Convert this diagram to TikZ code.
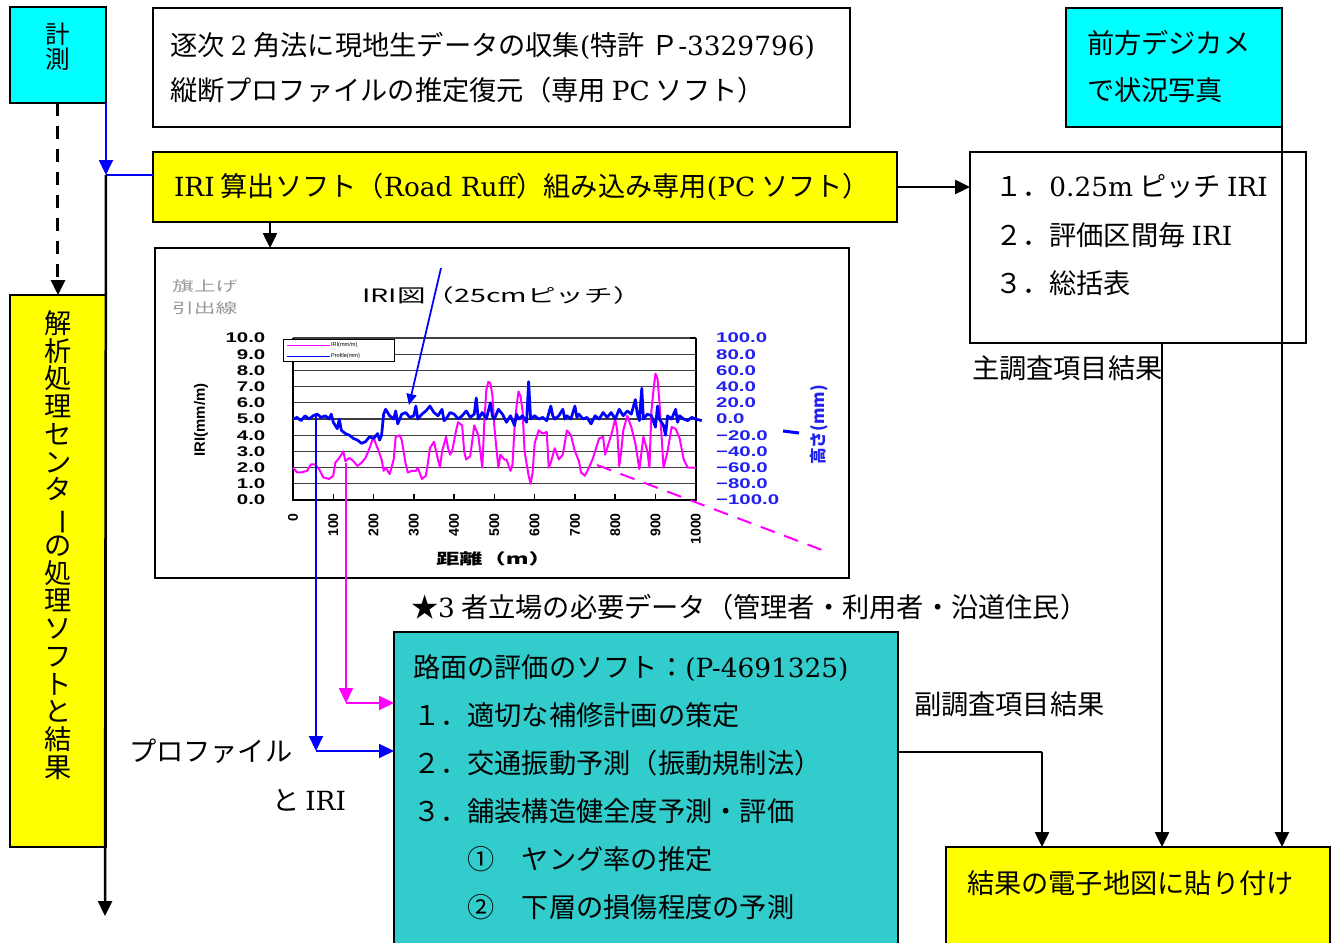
\documentclass[tikz,border=0pt]{standalone}
\usepackage{fontspec}
\newfontfamily\jp{Noto Sans CJK JP}
\newfontfamily\jpc{Noto Sans CJK JP}[FakeStretch=1.55]
\newfontfamily\cnum{Liberation Sans}[FakeStretch=1.45]
\newfontfamily\cnumr{Liberation Sans}
\newfontfamily\latf{DejaVu Serif}
\usetikzlibrary{arrows.meta}
\newcommand\lat[1]{{\fontsize{15}{15}\latf #1}}
\definecolor{cyanbox}{HTML}{00FFFF}
\definecolor{ybox}{HTML}{FFFF00}
\definecolor{tealbox}{HTML}{33CCCC}
\definecolor{mag}{HTML}{FF00FF}
\definecolor{blu}{HTML}{0000FF}
\definecolor{rblu}{HTML}{2020F0}
\begin{document}
\begin{tikzpicture}[x=0.02cm,y=-0.02cm,
  box/.style={draw=black,line width=0.045cm,inner sep=0pt,outer sep=0pt,anchor=north west},
  txt/.style={inner sep=0pt,outer sep=0pt,anchor=west,align=left},
  arr/.style={-{Triangle[length=0.3cm,width=0.28cm]},line width=0.05cm},
  barr/.style={arr,draw=blu,line width=0.04cm},
  marr/.style={arr,draw=mag,line width=0.045cm},
  bigt/.style={font=\fontsize{15.5}{27.3}\jp},
  tick/.style={inner sep=0pt,font={\fontsize{8}{9}\cnum\bfseries}},
  rtick/.style={inner sep=0pt,font={\fontsize{8}{9}\cnumr\bfseries}}]
\useasboundingbox (0,0) rectangle (1340,943);
\clip (0,0) rectangle (1340,943);
\fill[white] (0,0) rectangle (1340,943);

% ---------- boxes ----------
\node[box,fill=cyanbox,minimum width=1.92cm,minimum height=1.92cm] (keisoku) at (10,7) {};
\node[txt,anchor=center,align=center,font=\fontsize{14}{14.2}\jp] (keisokut) at (58,47) {計\\測};
\node[box,fill=white,minimum width=13.94cm,minimum height=2.38cm] (topbox) at (153,8) {};
\node[txt,font=\fontsize{15.5}{25.6}\jp] (toptxt) at (170,67.5)
 {逐次 \lat{2} 角法に現地生データの収集\lat{(}特許 Ｐ\lat{-3329796)}\\縦断プロファイルの推定復元（専用 \lat{PC} ソフト）};
\node[box,fill=ybox,minimum width=14.88cm,minimum height=1.4cm] (iri) at (153,152) {};
\node[txt,bigt] (iritxt) at (174,187) {\lat{IRI} 算出ソフト（\lat{Road Ruff}）組み込み専用\lat{(PC} ソフト）};
\node[box,fill=white,minimum width=6.72cm,minimum height=3.82cm] (listbox) at (970,152) {};
\node[txt,font=\fontsize{15.5}{27.6}\jp] (listtxt) at (995,235.5)
 {１．\lat{0.25m} ピッチ \lat{IRI}\\２．評価区間毎 \lat{IRI}\\３．総括表};
\node[box,fill=cyanbox,minimum width=4.32cm,minimum height=2.38cm] (camera) at (1066,8) {};
\node[txt,font=\fontsize{15.5}{26.7}\jp] (camtxt) at (1087,66.5) {前方デジカメ\\で状況写真};
\node[txt,bigt] (shu) at (972,368) {主調査項目結果};

% chart frame
\node[box,fill=white,minimum width=13.88cm,minimum height=6.6cm] (chart) at (155,248) {};

\node[box,fill=ybox,minimum width=1.92cm,minimum height=11.04cm] (kaiseki) at (10,295) {};
\node[txt,anchor=center,align=center,font=\fontsize{15.5}{15.8}\jp] (kaisekit) at (58,545)
 {解\\析\\処\\理\\セ\\ン\\タ\\\rotatebox[origin=c]{-90}{ー}\\の\\処\\理\\ソ\\フ\\ト\\と\\結\\果};

\node[txt,bigt] (star) at (411,607) {★\lat{3} 者立場の必要データ（管理者・利用者・沿道住民）};
\node[box,fill=tealbox,minimum width=10.08cm,minimum height=6.6cm] (teal) at (394,632) {};
\node[txt,bigt] (tealtxt) at (413,787)
 {路面の評価のソフト：\lat{(P-4691325)}\\１．適切な補修計画の策定\\２．交通振動予測（振動規制法）\\３．舗装構造健全度予測・評価\\　　①　ヤング率の推定\\　　②　下層の損傷程度の予測};
\node[txt,bigt] (fuku) at (914,704) {副調査項目結果};
\node[box,fill=ybox,minimum width=7.68cm,minimum height=2.4cm] (kekka) at (946,847) {};
\node[txt,bigt] (kekkat) at (967,883) {結果の電子地図に貼り付け};
\node[txt,bigt] (prof) at (129,751) {プロファイル};
\node[txt,bigt] (andiri) at (272,800) {と \lat{IRI}};

% ---------- chart contents ----------
\node[txt,font=\fontsize{8}{9}\jpc,text=black!40] (hata1) at (172,286) {旗上げ};
\node[txt,font=\fontsize{8}{9}\jpc,text=black!40] (hata2) at (172,308) {引出線};
\node[inner sep=0pt,font=\fontsize{10.5}{11}\jpc] (ctitle) at (502,295) {IRI図（25cmピッチ）};
\node[inner sep=0pt,font=\fontsize{8.5}{9}\jpc\bfseries] (xtitle) at (494,559) {距離（m）};
\node[rotate=90,inner sep=0pt,font={\fontsize{8.5}{9}\cnumr\bfseries}] (ytitle) at (201,420) {IRI(mm/m)};
\node[rotate=90,inner sep=0pt,text=rblu,font={\fontsize{9.5}{10}\jp\bfseries}] (y2title) at (819,425) {高さ(mm)};

\begin{scope}[shift={(293,500)},x=0.00806cm,y=0.324cm]
  \fill[white] (0,0) rectangle (1000,10);
  \foreach \v in {1,...,10} \draw[black!75,line width=0.025cm] (0,\v) -- (1000,\v);
  \draw[black,line width=0.035cm] (0,10) -- (0,0) -- (1000,0) -- (1000,10);
  \draw[black,line width=0.03cm] (1000,10) -- (985,10);
  \foreach \v in {100,200,...,1000} \draw[black,line width=0.03cm] (\v,0) -- (\v,0.35);
  \foreach \v in {0,...,10} \node[tick,anchor=east] (yl\v) at (-68,\v) {\v.0};
  \foreach \v/\t in {10/100.0,9/80.0,8/60.0,7/40.0,6/20.0,5/0.0,4/−20.0,3/−40.0,2/−60.0,1/−80.0,0/−100.0}
    \node[tick,anchor=west,text=rblu] (yr\v) at (1050,\v) {\t};
  \foreach \v in {0,100,...,1000} \node[rtick,rotate=90,anchor=east] (xl\v) at (\v,-0.8) {\v};
  % IRI series
  \draw[mag,line width=0.04cm,line join=round] plot coordinates {
  (0,2.0)(10,1.7)(20,1.7)(35,1.8)(45,2.2)(55,2.2)(65,1.9)(75,1.4)(90,1.3)(100,1.5)(105,2.3)(115,2.6)(125,3.0)(130,2.4)(140,2.6)(150,2.4)(160,2.1)(170,2.3)(180,2.6)(190,3.2)(200,3.9)(205,3.5)(210,3.2)(220,2.5)(225,1.8)(230,2.0)(240,1.6)(250,2.5)(255,3.9)(265,4.0)(270,3.7)(280,2.2)(285,1.7)(295,1.8)(305,1.8)(310,2.0)(320,1.3)(330,1.5)(335,2.3)(340,3.2)(350,3.6)(360,2.5)(365,2.0)(370,3.0)(380,3.9)(385,3.2)(390,2.8)(395,3.0)(405,4.3)(410,4.8)(420,4.6)(425,3.0)(430,2.5)(440,2.7)(450,4.6)(460,4.0)(470,2.0)(475,4.8)(480,6.8)(485,7.3)(490,7.2)(495,6.5)(500,4.5)(505,3.2)(510,2.0)(515,2.8)(525,2.5)(530,2.5)(540,1.8)(545,2.2)(550,4.4)(555,5.8)(560,6.7)(565,6.4)(570,5.5)(575,3.0)(585,1.5)(590,1.0)(595,1.7)(600,3.5)(610,4.3)(620,4.1)(630,4.2)(635,2.0)(640,2.3)(650,3.2)(660,2.5)(670,2.8)(680,4.3)(690,4.0)(700,3.0)(710,2.4)(715,1.7)(725,1.5)(735,2.0)(745,2.6)(760,3.8)(770,3.9)(775,2.8)(780,3.2)(790,4.0)(800,5.0)(805,4.3)(810,2.1)(815,3.0)(820,4.3)(830,5.2)(840,4.5)(850,3.5)(860,1.9)(870,3.9)(880,3.0)(885,2.0)(890,5.5)(895,6.8)(900,7.8)(905,7.5)(910,6.0)(915,4.0)(920,2.0)(930,3.0)(940,4.5)(950,4.4)(960,3.8)(970,2.5)(980,2.0)(990,2.0)(1000,2.0)};
  % Profile series
  \draw[blu,line width=0.055cm,line join=round] plot coordinates {
  (0,5.0)(10,5.1)(20,4.9)(30,5.2)(40,5.0)(50,5.2)(60,5.3)(70,5.1)(80,5.2)(90,5.0)(95,5.3)(100,4.8)(110,4.4)(115,5.0)(120,4.3)(130,4.1)(140,4.0)(150,3.8)(160,3.7)(170,3.5)(180,3.6)(190,3.9)(200,3.8)(210,4.1)(215,3.7)(220,4.0)(225,5.3)(230,5.6)(240,5.2)(250,5.0)(255,5.5)(260,4.7)(270,5.3)(280,5.4)(290,5.1)(300,5.2)(305,5.8)(310,5.0)(320,5.3)(330,5.5)(340,5.8)(350,5.4)(360,5.2)(370,5.6)(375,4.9)(380,5.0)(390,5.4)(400,5.3)(410,5.0)(420,5.2)(430,5.5)(440,5.1)(450,5.3)(455,6.3)(460,5.0)(470,5.4)(480,5.0)(490,6.0)(495,5.2)(500,5.0)(510,5.6)(520,5.3)(530,4.8)(540,5.2)(550,4.6)(555,5.3)(560,5.0)(570,5.2)(580,4.8)(585,7.3)(590,5.0)(600,5.2)(610,5.0)(620,5.1)(630,4.9)(640,5.8)(645,5.2)(650,5.0)(660,5.2)(670,5.6)(675,5.0)(680,5.2)(690,5.0)(700,5.8)(705,5.1)(710,5.3)(720,5.0)(730,5.1)(740,4.7)(750,5.2)(760,5.0)(770,5.4)(780,5.1)(790,5.4)(800,5.0)(810,5.6)(820,5.2)(830,5.5)(840,5.3)(850,6.2)(855,5.3)(860,4.9)(866,6.9)(870,5.0)(880,5.3)(890,5.2)(900,4.5)(905,5.8)(910,5.0)(920,4.6)(925,4.0)(930,5.2)(940,5.0)(950,5.6)(955,4.8)(960,5.2)(970,5.0)(980,4.9)(990,5.1)(1000,5.0)(1015,4.9)};
\end{scope}

% legend
\node[box,fill=white,line width=0.02cm,minimum width=2.24cm,minimum height=0.46cm] (legend) at (283,339) {};
\draw[mag,line width=0.03cm] (287,345.5) -- (330,345.5);
\draw[blu,line width=0.03cm] (287,356.5) -- (330,356.5);
\node[txt,font={\fontsize{3.2}{4}\cnumr}] (leg1) at (331,345.5) {IRI(mm/m)};
\node[txt,font={\fontsize{3.2}{4}\cnumr}] (leg2) at (331,356.5) {Profile(mm)};

% callout lines in chart
\coordinate (callA) at (441,268);
\coordinate (callB) at (409,405);
\draw[blu,line width=0.035cm,-{Triangle[length=0.22cm,width=0.2cm]}] (callA) -- (callB);
\coordinate (md1) at (597,465);
\coordinate (md2) at (830,553);
\draw[mag,line width=0.04cm,dash pattern=on 0.3cm off 0.2cm] (md1) -- (md2);
\coordinate (mk1) at (783,431);
\coordinate (mk2) at (799,433);
\draw[blu,line width=0.06cm] (mk1) -- (mk2);

% ---------- connectors ----------
\draw[arr,dash pattern=on 0.26cm off 0.2cm,line width=0.06cm] (keisoku.south) -- (kaiseki.north);
\coordinate (j1) at (keisoku.south east |- 0,175);
\draw[barr] (keisoku.south east) -- (j1);
\draw[blu,line width=0.04cm] (j1) -- (j1 -| iri.west);
\coordinate (lend) at (105,916);
\draw[arr] (j1) -- (lend);
\draw[arr] (iri.east) -- (iri.east -| listbox.west);
\coordinate (iridown) at (270,222);
\draw[arr] (iridown) -- (iridown |- chart.north);
\coordinate (lsrc) at (listbox.south west -| 1162,0);
\draw[arr] (lsrc) -- (lsrc |- kekka.north);
\coordinate (csrc) at (camera.south east);
\draw[arr] (csrc) -- (csrc |- kekka.north);
\coordinate (tsrc) at (teal.east |- 0,752);
\coordinate (tturn) at (1042,752);
\draw[line width=0.05cm] (tsrc) -- (tturn);
\draw[arr] (tturn) -- (tturn |- kekka.north);
\coordinate (bsrc) at (316,415);
\coordinate (bturn) at (316,751);
\draw[barr] (bsrc) -- (bturn);
\draw[barr] (bturn) -- (bturn -| teal.west);
\coordinate (msrc) at (346,463);
\coordinate (mturn) at (346,703);
\draw[marr] (msrc) -- (mturn);
\draw[marr] (mturn) -- (mturn -| teal.west);
\end{tikzpicture}
\end{document}
